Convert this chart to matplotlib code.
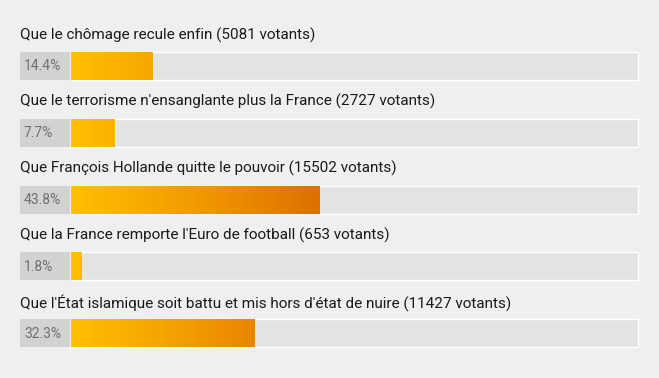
import numpy as np
import matplotlib.pyplot as plt
from matplotlib.colors import LinearSegmentedColormap
from matplotlib.patches import Rectangle

# Poll answers
questions = [
    "Que le chômage recule enfin",
    "Que le terrorisme n'ensanglante plus la France",
    "Que François Hollande quitte le pouvoir",
    "Que la France remporte l'Euro de football",
    "Que l'État islamique soit battu et mis hors d'état de nuire",
]
votes = [5081, 2727, 15502, 653, 11427]
percents = [14.4, 7.7, 43.8, 1.8, 32.3]

W, H = 659, 378
BG = "#eeeff1"
cmap = LinearSegmentedColormap.from_list("bar", ["#ffc000", "#f09400", "#d56400"])

fig = plt.figure(figsize=(W / 100, H / 100), dpi=100, facecolor=BG)
ax = fig.add_axes([0, 0, 1, 1])
ax.set_xlim(0, W)
ax.set_ylim(H, 0)
ax.axis("off")
ax.set_facecolor(BG)

font = ["Roboto", "DejaVu Sans"]
box_x0, box_x1 = 20, 70
track_x0, track_x1 = 71, 638
row_gap = 66.8

for i, (q, v, p) in enumerate(zip(questions, votes, percents)):
    y_text = 35 + i * row_gap
    y0 = 52 + i * row_gap
    y1 = y0 + 28
    ax.text(20, y_text, f"{q} ({v} votants)", fontsize=11, family=font,
            color="#1a1a1a", va="center", ha="left")
    # label box
    ax.add_patch(Rectangle((box_x0, y0), box_x1 - box_x0, y1 - y0,
                           facecolor="#d1d2d4", edgecolor="none"))
    ax.text(24, (y0 + y1) / 2 + 0.5, f"{p}%", fontsize=10, family=font,
            color="#707070", va="center", ha="left")
    # track
    ax.add_patch(Rectangle((track_x0, y0), track_x1 - track_x0, y1 - y0,
                           facecolor="#e3e3e3", edgecolor="white", linewidth=1.0))
    # gradient bar
    w = (track_x1 - track_x0) * p / 100
    frac = min(p / 50, 1)
    g = np.linspace(0, frac, 256).reshape(1, -1)
    ax.imshow(g, cmap=cmap, vmin=0, vmax=1, aspect="auto",
              extent=(track_x0, track_x0 + w, y1, y0), interpolation="bilinear", zorder=3)

ax.set_xlim(0, W)
ax.set_ylim(H, 0)
fig.savefig("out.png", dpi=100, facecolor=BG)
